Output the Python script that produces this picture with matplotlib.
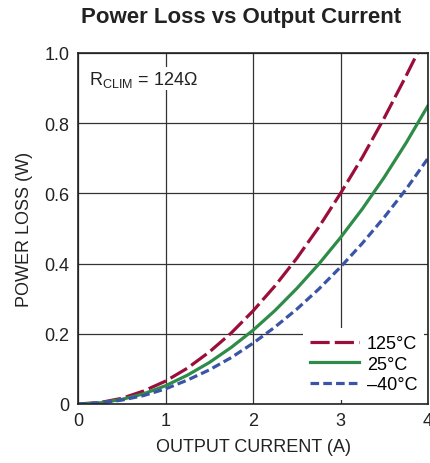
import matplotlib.pyplot as plt

plt.rcParams['font.family'] = ['Liberation Sans Narrow', 'Liberation Sans', 'DejaVu Sans']

current = [0, 0.25, 0.5, 0.75, 1, 1.25, 1.5, 1.75, 2, 2.25, 2.5, 2.75, 3, 3.25, 3.5, 3.75, 4]
loss_125 = [0, 0.004, 0.016, 0.037, 0.065, 0.102, 0.148, 0.202, 0.265, 0.336, 0.415, 0.503, 0.6, 0.703, 0.815, 0.935, 1.06]
loss_25 = [0, 0.003, 0.013, 0.029, 0.052, 0.082, 0.118, 0.161, 0.21, 0.266, 0.329, 0.398, 0.474, 0.556, 0.646, 0.744, 0.85]
loss_m40 = [0, 0.003, 0.011, 0.024, 0.043, 0.068, 0.097, 0.132, 0.173, 0.219, 0.27, 0.327, 0.39, 0.458, 0.532, 0.612, 0.70]

fig = plt.figure(figsize=(4.3, 4.64), dpi=100)
ax = fig.add_axes([0.1814, 0.1272, 0.814, 0.7565])

ax.plot(current, loss_125, color='#9b0e3a', lw=2.3, dashes=(6, 1.6), label='125°C')
ax.plot(current, loss_25, color='#2e8b48', lw=2.3, label='25°C')
ax.plot(current, loss_m40, color='#3a55a8', lw=2.3, dashes=(2.7, 1.3), label='\u201340°C')

ax.set_xlim(0, 4)
ax.set_ylim(0, 1.0)
ax.set_xticks([0, 1, 2, 3, 4])
ax.set_yticks([0, 0.2, 0.4, 0.6, 0.8, 1.0])
ax.set_yticklabels(['0', '0.2', '0.4', '0.6', '0.8', '1.0'])
ax.grid(True, color='#333333', lw=0.9)
ax.tick_params(labelsize=13, length=0, pad=6, colors='#222222')
for s in ax.spines.values():
    s.set_linewidth(1.2)
    s.set_color('#222222')

ax.set_xlabel('OUTPUT CURRENT (A)', fontsize=13, color='#222222', labelpad=6)
ax.set_ylabel('POWER LOSS (W)', fontsize=13, color='#222222', labelpad=8)
fig.suptitle('Power Loss vs Output Current', x=0.56, y=0.985, fontsize=16, fontweight='bold', color='#222222')

ax.text(0.03, 0.955, r'R$_{\mathregular{CLIM}}$ = 124Ω', transform=ax.transAxes,
        fontsize=13, va='top', ha='left', color='#222222',
        bbox=dict(facecolor='white', edgecolor='none', pad=1))

leg = ax.legend(loc='lower right', fontsize=13, frameon=True, handlelength=2.75,
                borderaxespad=0.2, labelspacing=0.2, handletextpad=0.4, fancybox=False)
leg.get_frame().set_facecolor('white')
leg.get_frame().set_edgecolor('none')
leg.get_frame().set_alpha(1)

fig.savefig('out.png', dpi=100)
